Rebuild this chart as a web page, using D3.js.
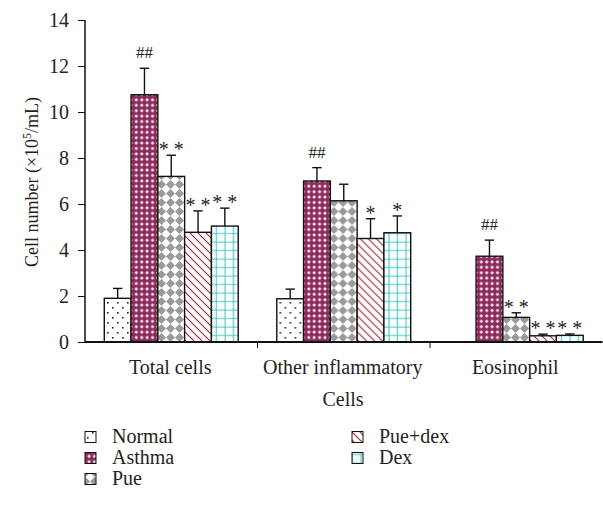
<!DOCTYPE html>
<html lang="en">
  <head>
    <meta charset="UTF-8" />
    <title>Cell number</title>
    <script src="https://d3js.org/d3.v7.min.js"></script>
    <style>
      body {
        margin: 0;
        background: #fff;
      }
      svg text {
        font-family: "Liberation Serif", "DejaVu Serif", serif;
        fill: #231f20;
      }
    </style>
  </head>
  <body>
    <svg id="chart" width="603" height="506"></svg>
    <script>
      // data
      let categories = ["Total cells", "Other inflammatory", "Eosinophil"];
      let groups = ["Normal", "Asthma", "Pue", "Pue+dex", "Dex"];
      let means = [
        [1.9, 10.75, 7.2, 4.77, 5.04],
        [1.88, 7.0, 6.14, 4.5, 4.75],
        [0, 3.73, 1.07, 0.27, 0.29]
      ];
      let errTops = [
        [2.33, 11.9, 8.12, 5.7, 5.82],
        [2.3, 7.58, 6.86, 5.36, 5.48],
        [0, 4.43, 1.27, 0.34, 0.35]
      ];
      let marks = [
        ["", "##", "* *", "* *", "* *"],
        ["", "##", "", "*", "*"],
        ["", "##", "* *", "* *", "* *"]
      ];
      let yTicks = [0, 2, 4, 6, 8, 10, 12, 14];

      let svg = d3.select("#chart");
      let mLeft = 85, mRight = 602.5, mTop = 20, mBottom = 342;

      let y = d3.scaleLinear().domain([0, 14]).range([mBottom, mTop]);
      let x0 = d3.scaleBand().domain(categories).range([mLeft, mRight]);
      let x1 = d3
        .scaleBand()
        .domain(groups)
        .range([0, x0.bandwidth()])
        .paddingOuter(0.72);

      // patterns
      let defs = svg.append("defs");
      let p;
      p = defs.append("pattern").attr("id", "p0").attr("patternUnits", "userSpaceOnUse")
        .attr("width", 10).attr("height", 10);
      p.append("rect").attr("width", 10).attr("height", 10).attr("fill", "#fff");
      p.append("rect").attr("x", 2).attr("y", 2).attr("width", 1.6).attr("height", 1.6).attr("fill", "#222");
      p.append("rect").attr("x", 7).attr("y", 7).attr("width", 1.6).attr("height", 1.6).attr("fill", "#222");

      p = defs.append("pattern").attr("id", "p1").attr("patternUnits", "userSpaceOnUse")
        .attr("width", 5.4).attr("height", 5.4);
      p.append("rect").attr("width", 5.4).attr("height", 5.4).attr("fill", "#8e2a5c");
      p.append("path").attr("d", "M1.2,2.7h3M2.7,1.2v3").attr("stroke", "#fff").attr("stroke-width", 1.2);

      p = defs.append("pattern").attr("id", "p2").attr("patternUnits", "userSpaceOnUse")
        .attr("width", 9).attr("height", 9);
      p.append("rect").attr("width", 9).attr("height", 9).attr("fill", "#fff");
      p.append("path").attr("d", "M4.5,0L9,4.5L4.5,9L0,4.5Z").attr("fill", "#9a9a9a");

      p = defs.append("pattern").attr("id", "p3").attr("patternUnits", "userSpaceOnUse")
        .attr("width", 8).attr("height", 8);
      p.append("rect").attr("width", 8).attr("height", 8).attr("fill", "#fff");
      p.append("path").attr("d", "M-2,-2L10,10M-2,6L2,10M6,-2L10,2")
        .attr("stroke", "#a3282c").attr("stroke-width", 1.1);

      p = defs.append("pattern").attr("id", "p4").attr("patternUnits", "userSpaceOnUse")
        .attr("width", 8.5).attr("height", 8.5);
      p.append("rect").attr("width", 8.5).attr("height", 8.5).attr("fill", "#fff");
      p.append("path").attr("d", "M4,0V8.5M0,4H8.5").attr("stroke", "#3cc8c8").attr("stroke-width", 1.1);

      // bars
      categories.forEach(function (c, i) {
        let g = svg.append("g").attr("transform", "translate(" + x0(c) + ",0)");
        groups.forEach(function (s, j) {
          let v = means[i][j];
          if (v <= 0) return;
          let bx = x1(s);
          let bw = x1.bandwidth();
          g.append("rect")
            .attr("x", bx)
            .attr("y", y(v))
            .attr("width", bw)
            .attr("height", y(0) - y(v))
            .attr("fill", "url(#p" + j + ")")
            .attr("stroke", "#111")
            .attr("stroke-width", 1.4);
          let cx = bx + bw / 2;
          let et = y(errTops[i][j]);
          g.append("line")
            .attr("x1", cx).attr("x2", cx)
            .attr("y1", y(v)).attr("y2", et)
            .attr("stroke", "#111").attr("stroke-width", 1.4);
          g.append("line")
            .attr("x1", cx - 4.7).attr("x2", cx + 4.7)
            .attr("y1", et).attr("y2", et)
            .attr("stroke", "#111").attr("stroke-width", 1.4);
          let m = marks[i][j];
          if (m) {
            let star = m.indexOf("*") >= 0;
            g.append("text")
              .attr("x", cx)
              .attr("y", star ? et + 1 : et - 10)
              .attr("text-anchor", "middle")
              .attr("font-size", star ? 20 : 17)
              .text(m);
          }
        });
      });

      // y axis
      let yAxis = svg.append("g")
        .attr("transform", "translate(" + mLeft + ",0)")
        .call(d3.axisLeft(y).tickValues(yTicks).tickSize(7).tickPadding(9));
      yAxis.select(".domain").attr("stroke", "#111").attr("stroke-width", 1.5)
        .attr("d", "M0," + mTop + "V" + mBottom);
      yAxis.selectAll(".tick line").attr("stroke", "#111");
      yAxis.selectAll("text").attr("font-size", 20)
        .style("font-family", '"Liberation Serif", serif').attr("fill", "#231f20");

      // x axis
      svg.append("line")
        .attr("x1", mLeft).attr("x2", mRight)
        .attr("y1", mBottom).attr("y2", mBottom)
        .attr("stroke", "#111").attr("stroke-width", 1.8);
      categories.slice(1).forEach(function (c) {
        svg.append("line")
          .attr("x1", x0(c)).attr("x2", x0(c))
          .attr("y1", mBottom).attr("y2", mBottom + 6)
          .attr("stroke", "#111");
      });
      categories.forEach(function (c) {
        svg.append("text")
          .attr("x", x0(c) + x0.bandwidth() / 2 - 1)
          .attr("y", 374)
          .attr("text-anchor", "middle")
          .attr("font-size", 20)
          .text(c);
      });

      // titles
      svg.append("text")
        .attr("x", 343).attr("y", 406)
        .attr("text-anchor", "middle")
        .attr("font-size", 20)
        .text("Cells");
      let yt = svg.append("text")
        .attr("transform", "translate(38,182) rotate(-90)")
        .attr("text-anchor", "middle")
        .attr("font-size", 18);
      yt.append("tspan").text("Cell number (\u00d710");
      yt.append("tspan").attr("dy", -7).attr("font-size", 12).text("5");
      yt.append("tspan").attr("dy", 7).text("/mL)");

      // legend
      let legendPos = [
        [85, 437], [85, 458], [85, 479], [352, 437], [352, 458]
      ];
      groups.forEach(function (s, j) {
        let lx = legendPos[j][0], ly = legendPos[j][1];
        svg.append("rect")
          .attr("x", lx).attr("y", ly - 5.5)
          .attr("width", 11).attr("height", 11)
          .attr("fill", "url(#p" + j + ")")
          .attr("stroke", "#111").attr("stroke-width", 1);
        svg.append("text")
          .attr("x", lx + 27).attr("y", ly + 6)
          .attr("font-size", 20)
          .text(s);
      });
    </script>
  </body>
</html>
